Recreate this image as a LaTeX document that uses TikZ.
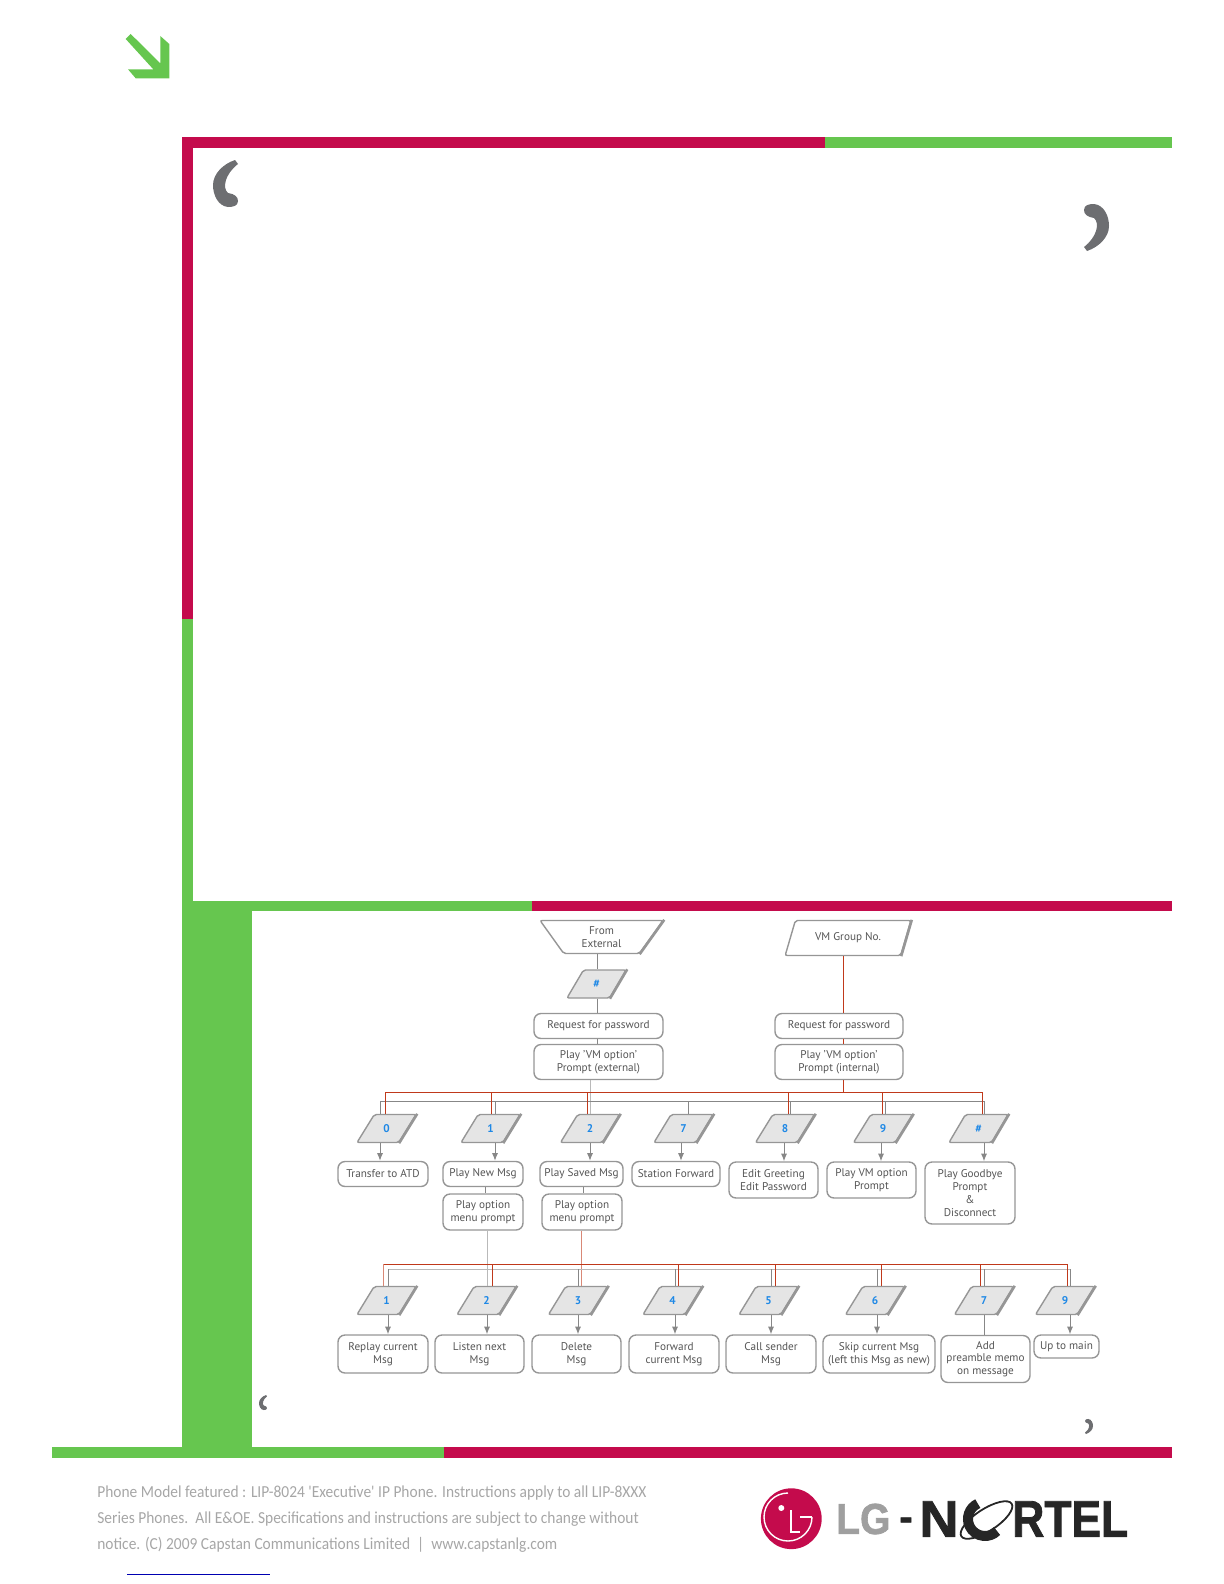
\documentclass[tikz,border=0pt]{standalone}
\usepackage{fontspec}
\usetikzlibrary{arrows.meta,shapes.geometric}
\setmainfont{PT Sans}
\newfontfamily\footfont{Carlito}
\newfontfamily\logofont[BoldFeatures={FakeBold=1.6}]{Liberation Sans}
\definecolor{pagered}{HTML}{C40B4C}
\definecolor{pagegreen}{HTML}{66C64F}
\definecolor{quotegray}{HTML}{6D6E71}
\definecolor{boxgray}{HTML}{969696}
\definecolor{labelgray}{HTML}{555555}
\definecolor{linkred}{HTML}{C0391B}
\definecolor{keyblue}{HTML}{1E88E5}
\tikzset{
  msgbox/.style={draw=boxgray, line width=0.7pt, rounded corners=3.5pt, fill=white,
    inner sep=0pt, align=center, text=labelgray, font=\fontsize{5.6}{6.4}\selectfont},
  keybox/.style={trapezium, trapezium left angle=61, trapezium right angle=119,
    trapezium stretches=true, draw=boxgray, line width=0.7pt, rounded corners=1pt,
    fill=gray!20, inner sep=0pt, minimum width=29.5pt, minimum height=14pt,
    text=keyblue, font=\bfseries\fontsize{5.6}{6.4}\selectfont},
  inbox/.style={trapezium, trapezium stretches=true, draw=boxgray, line width=0.7pt,
    rounded corners=1pt, fill=white, inner sep=0pt, align=center, text=labelgray,
    font=\fontsize{5.6}{6.4}\selectfont},
  keyedge/.style={draw=boxgray, line width=1.3pt},
  grayline/.style={draw=boxgray!90!black, line width=0.5pt},
  paleline/.style={draw=gray!55, line width=0.45pt},
  redline/.style={draw=linkred, line width=0.45pt},
  palered/.style={draw=linkred!60, line width=0.45pt},
  arrowline/.style={grayline, -{Latex[length=3.8pt,width=3pt]}},
  footline/.style={anchor=west, inner sep=0pt, xscale=0.92, text=gray!70, font=\footfont\fontsize{8.4}{10}\selectfont},
  quotemark/.pic={
    \fill[quotegray] (22,0) -- (25,4) .. controls (12,14) and (9,28) .. (15,33)
      .. controls (22,34) and (25,37) .. (25,41) .. controls (25,46) and (20,47) .. (15,47)
      .. controls (5,46) and (0,35) .. (0,25) .. controls (0,14) and (10,4) .. (22,0) -- cycle;
  }
}
\begin{document}
\begin{tikzpicture}[x=0.5pt, y=-0.5pt]
  \useasboundingbox (0,0) rectangle (1224,1584);
  % Corner arrow
  \fill[pagegreen] (125.7,39) -- (130.7,34) -- (160.3,63.3) -- (160.3,36) -- (169.3,44)
    -- (169.3,78.3) -- (135.7,78.3) -- (128,69.3) -- (153.3,69.3) -- cycle;
  % Frame bars
  \fill[pagered] (182,137) rectangle (825,148);
  \fill[pagegreen] (825,137) rectangle (1172,148);
  \fill[pagered] (182,137) rectangle (193,619);
  \fill[pagegreen] (182,619) rectangle (193,1447);
  \fill[pagegreen] (193,901) rectangle (532,911);
  \fill[pagered] (532,901) rectangle (1172,911);
  \fill[pagegreen] (182,911) rectangle (252,1447);
  \fill[pagegreen] (52,1447) rectangle (444,1458);
  \fill[pagered] (444,1447) rectangle (1172,1458);
  % Quote marks
  \pic at (213,160) {quotemark};
  \pic[rotate=180] at (1109,251) {quotemark};
  \pic[scale=0.32] at (259,1395) {quotemark};
  \pic[scale=0.32,rotate=180] at (1093,1434) {quotemark};

  % Entry points
  \node[inbox, trapezium left angle=121, trapezium right angle=121,
    minimum width=61.5pt, minimum height=16.5pt] (fromext) at (601.5,937) {From\\External};
  \node[inbox, trapezium left angle=58, trapezium right angle=122,
    minimum width=63pt, minimum height=17.5pt] (vmgroup) at (848,938) {VM Group No.};
  \node[keybox] (keyhash) at (596.5,984) {\#};
  \node[msgbox, minimum width=64.5pt, minimum height=12.5pt] (reqext) at (598.5,1026) {Request for password};
  \node[msgbox, minimum width=64.5pt, minimum height=17.5pt] (playext) at (598.5,1062) {Play 'VM option'\\Prompt (external)};
  \node[msgbox, minimum width=64pt, minimum height=12.5pt] (reqint) at (839,1026) {Request for password};
  \node[msgbox, minimum width=64pt, minimum height=17.5pt] (playint) at (839,1062) {Play 'VM option'\\Prompt (internal)};

  % Main menu keys
  \node[keybox] (mk0) at (386.5,1128.5) {0};
  \node[keybox] (mk1) at (490.5,1128.5) {1};
  \node[keybox] (mk2) at (590,1128.5) {2};
  \node[keybox] (mk7) at (683.5,1128.5) {7};
  \node[keybox] (mk8) at (785,1128.5) {8};
  \node[keybox] (mk9) at (883,1128.5) {9};
  \node[keybox] (mkh) at (978.5,1128.5) {\#};
  % Main menu boxes
  \node[msgbox, minimum width=45pt, minimum height=12.5pt] (mb0) at (383,1174) {Transfer to ATD};
  \node[msgbox, minimum width=40pt, minimum height=12.5pt] (mb1) at (483,1174) {Play New Msg};
  \node[msgbox, minimum width=41.5pt, minimum height=12.5pt] (mb2) at (581.5,1174) {Play Saved Msg};
  \node[msgbox, minimum width=44pt, minimum height=12.5pt] (mb7) at (676,1174) {Station Forward};
  \node[msgbox, minimum width=44.5pt, minimum height=18pt] (mb8) at (773.5,1180) {Edit Greeting\\Edit Password};
  \node[msgbox, minimum width=44.5pt, minimum height=18pt] (mb9) at (871.5,1180) {Play VM option\\Prompt};
  \node[msgbox, minimum width=45pt, minimum height=31pt] (mbh) at (970,1193) {Play Goodbye\\Prompt\\\&\\Disconnect};
  \node[msgbox, minimum width=40pt, minimum height=18pt] (opt1) at (483,1212) {Play option\\menu prompt};
  \node[msgbox, minimum width=40pt, minimum height=18pt] (opt2) at (582,1212) {Play option\\menu prompt};

  % Message menu keys
  \node[keybox] (sk1) at (386.5,1300.5) {1};
  \node[keybox] (sk2) at (486.5,1300.5) {2};
  \node[keybox] (sk3) at (578,1300.5) {3};
  \node[keybox] (sk4) at (672.5,1300.5) {4};
  \node[keybox] (sk5) at (768.5,1300.5) {5};
  \node[keybox] (sk6) at (875,1300.5) {6};
  \node[keybox] (sk7) at (984,1300.5) {7};
  \node[keybox] (sk9) at (1065,1300.5) {9};
  % Message menu boxes
  \node[msgbox, minimum width=45pt, minimum height=19pt] (sb1) at (383,1354) {Replay current\\Msg};
  \node[msgbox, minimum width=44.5pt, minimum height=19pt] (sb2) at (479.5,1354) {Listen next\\Msg};
  \node[msgbox, minimum width=44.5pt, minimum height=19pt] (sb3) at (576.5,1354) {Delete\\Msg};
  \node[msgbox, minimum width=45pt, minimum height=19pt] (sb4) at (674,1354) {Forward\\current Msg};
  \node[msgbox, minimum width=45pt, minimum height=19pt] (sb5) at (771,1354) {Call sender\\Msg};
  \node[msgbox, minimum width=56pt, minimum height=19pt] (sb6) at (879,1354) {Skip current Msg\\(left this Msg as new)};
  \node[msgbox, minimum width=44.5pt, minimum height=23.5pt] (sb7) at (985.5,1359) {Add\\preamble memo\\on message};
  \node[msgbox, minimum width=32.5pt, minimum height=11.5pt] (sb9) at (1066.5,1346.5) {Up to main};

  % Slanted edges of the keys
  \foreach \nk in {keyhash,mk0,mk1,mk2,mk7,mk8,mk9,mkh,sk1,sk2,sk3,sk4,sk5,sk6,sk7,sk9,fromext,vmgroup}
    \draw[keyedge] (\nk.top right corner) -- (\nk.bottom right corner);

  % Links above the main menu
  \draw[grayline] (fromext.south -| 597,0) -- (keyhash.north -| 597,0);
  \draw[grayline] (keyhash.south -| 597,0) -- (reqext.north -| 597,0);
  \draw[grayline] (reqext.south -| 597,0) -- (playext.north -| 597,0);
  \draw[redline] (vmgroup.south -| 843,0) -- (reqint.north -| 843,0);
  \draw[redline] (reqint.south -| 843,0) -- (playint.north -| 843,0);
  \coordinate (redmain) at (385,1092);
  \coordinate (graymain) at (380,1101);
  \draw[redline] (playint.south -| 843,0) -- (redmain -| 843,0);
  \draw[paleline] (playext.south -| 590,0) -- (mk2.north -| 590,0);
  \draw[grayline] (graymain) -- (graymain -| 984,0);
  \draw[redline] (redmain) -- (redmain -| 982,0);
  \foreach \xd/\nk in {380/mk0,495/mk1,688/mk7,790/mk8,885/mk9,984/mkh}
    \draw[grayline] (graymain -| \xd,0) -- (\nk.north -| \xd,0);
  \foreach \xd/\nk in {385/mk0,491/mk1,587/mk2,788/mk8,882/mk9,982/mkh}
    \draw[redline] (redmain -| \xd,0) -- (\nk.north -| \xd,0);
  % Arrows to the main menu boxes
  \foreach \xd/\nk/\nb in {380/mk0/mb0,495/mk1/mb1,590/mk2/mb2,681/mk7/mb7,784/mk8/mb8,881/mk9/mb9,984/mkh/mbh}
    \draw[arrowline] (\nk.south -| \xd,0) -- (\nb.north -| \xd,0);
  \draw[grayline] (mb1.south -| 485,0) -- (opt1.north -| 485,0);
  \draw[grayline] (mb2.south -| 583,0) -- (opt2.north -| 583,0);

  % Links above the message menu
  \coordinate (redmsg) at (383,1264);
  \coordinate (graymsg) at (388,1269);
  \draw[paleline] (opt1.south -| 487,0) -- (sk2.north -| 487,0);
  \draw[palered] (opt2.south -| 581,0) -- (sk3.north -| 581,0);
  \draw[paleline] (graymsg) -- (graymsg -| 1070,0);
  \draw[redline] (redmsg) -- (redmsg -| 1067,0);
  \draw[palered] (redmsg) -- (sk1.north -| 383,0);
  \foreach \xd/\nk in {388/sk1,578/sk3,675/sk4,771/sk5,877/sk6,984/sk7,1070/sk9}
    \draw[grayline] (graymsg -| \xd,0) -- (\nk.north -| \xd,0);
  \foreach \xd/\nk in {492/sk2,678/sk4,775/sk5,881/sk6,980/sk7,1067/sk9}
    \draw[redline] (redmsg -| \xd,0) -- (\nk.north -| \xd,0);
  % Arrows to the message menu boxes
  \foreach \xd/\nk/\nb in {388/sk1/sb1,487/sk2/sb2,578/sk3/sb3,675/sk4/sb4,771/sk5/sb5,877/sk6/sb6,1070/sk9/sb9}
    \draw[arrowline] (\nk.south -| \xd,0) -- (\nb.north -| \xd,0);
  \draw[grayline] (sk7.south -| 984,0) -- (sb7.north -| 984,0);

  % Footer text
  \node[footline] (foota) at (97,1493) {Phone Model featured : LIP-8024 'Executive' IP Phone. Instructions apply to all LIP-8XXX};
  \node[footline] (footb) at (97,1519) {Series Phones.\ \ All E\&OE. Specifications and instructions are subject to change without};
  \node[footline] (footc) at (97,1545) {notice. (C) 2009 Capstan Communications Limited\ \ |\ \ www.capstanlg.com};
  \draw[blue!70!black, line width=0.5pt] (127,1574) -- (270,1574);

  % Logo
  \fill[pagered] (791.3,1518.7) circle (15.2pt);
  \draw[white, line width=0.7pt] (812,1517) -- (800,1517);
  \draw[white, line width=0.7pt] (812,1517) arc[start angle=0, end angle=-270, radius=12pt];
  \draw[white, line width=0.8pt] (791,1510) -- (791,1532) -- (800,1532);
  \fill[white] (781.3,1508) circle (1.5pt);
  \node[inner sep=0pt, anchor=west, xscale=0.9, text=gray!75, font=\logofont\bfseries\fontsize{21.6}{22}\selectfont] (lgname) at (836,1519) {LG};
  \node[inner sep=0pt, anchor=west, xscale=1.05, text=black!85, font=\logofont\bfseries\fontsize{25.8}{26}\selectfont] (nname) at (919,1519) {N};
  \node[inner sep=0pt, anchor=west, xscale=0.86, text=black!85, font=\logofont\bfseries\fontsize{25.8}{26}\selectfont] (rname) at (1012,1519) {RTEL};
  \node[inner sep=0pt, anchor=center, text=black!85, font=\logofont\bfseries\fontsize{20}{20}\selectfont] (dashname) at (906,1524) {-};
  \draw[black!85, line width=5pt] (977.8,1503.6) arc[start angle=115, end angle=315, radius=8.5pt];
  \draw[black!85, line width=0.9pt, rotate around={33:(986.5,1520)}] (986.5,1520) ellipse (15pt and 5.5pt);
\end{tikzpicture}
\end{document}
